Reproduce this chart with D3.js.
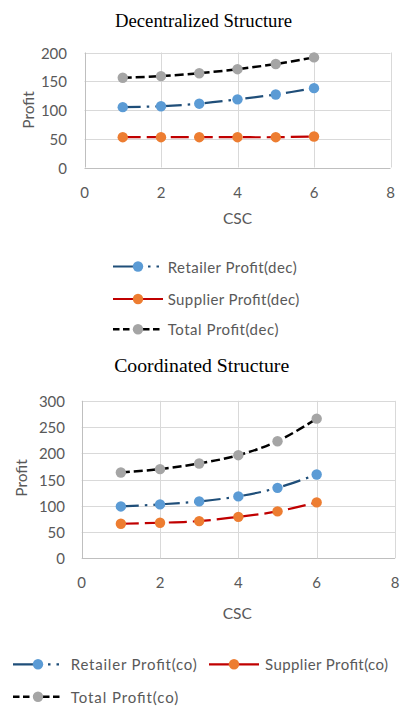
<!DOCTYPE html>
<html>
<head>
<meta charset="utf-8">
<script src="https://cdn.jsdelivr.net/npm/d3@7"></script>
<style>
  html, body { margin: 0; padding: 0; background: #fff; }
  svg { display: block; }
</style>
</head>
<body>
<svg id="chart" width="400" height="706"></svg>
<script>
// CSC levels on the horizontal axis
const csc = [1, 2, 3, 4, 5, 6];

// Decentralized structure profits
const decRetailer = [105, 106.5, 111, 118.5, 127, 138];
const decSupplier = [52.7, 52.7, 52.7, 52.7, 52.7, 54];
const decTotal = [156, 159, 164, 171, 180, 191.5];

// Coordinated structure profits
const coRetailer = [98.8, 102.7, 108.4, 117.9, 134.2, 159.7];
const coSupplier = [65.8, 67.7, 70.9, 79, 89.3, 106.5];
const coTotal = [163.5, 169.8, 180.6, 196.4, 223, 266];

// Tick labels
const xTicks = [0, 2, 4, 6, 8];
const decYTicks = [0, 50, 100, 150, 200];
const coYTicks = [0, 50, 100, 150, 200, 250, 300];

// Titles and legend names
const titles = ["Decentralized Structure", "Coordinated Structure"];
const decNames = ["Retailer Profit(dec)", "Supplier Profit(dec)", "Total Profit(dec)"];
const coNames = ["Retailer Profit(co)", "Supplier Profit(co)", "Total Profit(co)"];

const svg = d3.select("#chart");
const tickFont = "Lato, 'Open Sans', sans-serif";
const gray = "#595959";

// Series styles: line colour, dash pattern in plot and in legend key, marker colour
const styles = [
  { line: "#1F4E79", dash: "18,6,2.5,6,2.5,6", keyDash: "21,14,2.5,6,2.5,20", marker: "#5B9BD5", width: 2.2 },
  { line: "#C00000", dash: "18,6", keyDash: null, marker: "#ED7D31", width: 2.2 },
  { line: "#000000", dash: "9,4", keyDash: "6.5,3.5", marker: "#A5A5A5", width: 2.5 }
];

function panel(opt) {
  const x = d3.scaleLinear().domain([0, 8]).range(opt.xr);
  const y = d3.scaleLinear().domain([0, opt.yMax]).range(opt.yr);
  const g = svg.append("g");

  // title
  g.append("text")
    .attr("x", opt.titleX).attr("y", opt.titleY)
    .attr("text-anchor", "middle").attr("dominant-baseline", "central")
    .style("font-family", "'Liberation Serif', 'Times New Roman', serif")
    .style("font-size", "19px").attr("fill", "#000")
    .attr("textLength", opt.titleW).attr("lengthAdjust", "spacingAndGlyphs")
    .text(opt.title);

  // grid
  g.append("g").selectAll("line").data(opt.yTicks).join("line")
    .attr("x1", opt.xr[0]).attr("x2", opt.xr[1])
    .attr("y1", d => Math.round(y(d)) + 0.5).attr("y2", d => Math.round(y(d)) + 0.5)
    .attr("stroke", d => d === 0 ? "#BFBFBF" : "#D9D9D9").attr("stroke-width", 1);
  g.append("g").selectAll("line").data(xTicks).join("line")
    .attr("y1", opt.yr[0]).attr("y2", opt.yr[1])
    .attr("x1", d => Math.round(x(d)) + 0.5).attr("x2", d => Math.round(x(d)) + 0.5)
    .attr("stroke", d => d === 0 ? "#BFBFBF" : "#D9D9D9").attr("stroke-width", 1);

  // y tick labels
  g.append("g").selectAll("text").data(opt.yTicks).join("text")
    .attr("x", opt.yLabelX).attr("y", d => y(d))
    .attr("text-anchor", "end").attr("dominant-baseline", "central")
    .style("font-family", tickFont).style("font-size", "15px").attr("fill", gray)
    .text(d => d);

  // x tick labels
  g.append("g").selectAll("text").data(xTicks).join("text")
    .attr("x", d => x(d)).attr("y", opt.xLabelY)
    .attr("text-anchor", "middle").attr("dominant-baseline", "central")
    .style("font-family", tickFont).style("font-size", "15px").attr("fill", gray)
    .text(d => d);

  // axis titles
  g.append("text")
    .attr("x", opt.cscX).attr("y", opt.cscY)
    .attr("text-anchor", "middle").attr("dominant-baseline", "central")
    .style("font-family", tickFont).style("font-size", "15.5px").attr("fill", gray)
    .text("CSC");
  g.append("text")
    .attr("transform", `translate(${opt.profitX},${opt.profitY}) rotate(-90)`)
    .attr("text-anchor", "middle").attr("dominant-baseline", "central")
    .style("font-family", tickFont).style("font-size", "15.5px").attr("fill", gray)
    .text("Profit");

  // series
  const line = d3.line().x((d, i) => x(csc[i])).y(d => y(d)).curve(d3.curveCatmullRom.alpha(0.5));
  opt.series.forEach((vals, si) => {
    const st = styles[si];
    const sg = g.append("g");
    sg.append("path").attr("d", line(vals))
      .attr("fill", "none").attr("stroke", st.line)
      .attr("stroke-width", st.width).attr("stroke-dasharray", st.dash);
    sg.selectAll("circle").data(vals).join("circle")
      .attr("cx", (d, i) => x(csc[i])).attr("cy", d => y(d)).attr("r", 5.2)
      .attr("fill", st.marker);
  });

  // legend
  opt.legend.forEach((it, si) => {
    const st = styles[si];
    const lg = g.append("g");
    lg.append("line")
      .attr("x1", it.x0).attr("x2", it.x0 + 50).attr("y1", it.y).attr("y2", it.y)
      .attr("stroke", st.line).attr("stroke-width", st.width)
      .attr("stroke-dasharray", st.keyDash);
    lg.append("circle").attr("cx", it.x0 + 25).attr("cy", it.y).attr("r", 5.2).attr("fill", st.marker);
    lg.append("text")
      .attr("x", it.tx).attr("y", it.y)
      .attr("dominant-baseline", "central")
      .style("font-family", tickFont).style("font-size", "15px").attr("fill", gray)
      .attr("textLength", it.w).attr("lengthAdjust", "spacing")
      .text(opt.names[si]);
  });
}

panel({
  title: titles[0], titleX: 203.5, titleY: 20, titleW: 177,
  xr: [84.5, 390.5], yr: [167.5, 52.5], yMax: 200, yTicks: decYTicks,
  yLabelX: 67, xLabelY: 192, cscX: 237.5, cscY: 218, profitX: 28, profitY: 110,
  series: [decRetailer, decSupplier, decTotal], names: decNames,
  legend: [
    { x0: 113, y: 266.5, tx: 167.7, w: 129 },
    { x0: 113, y: 299, tx: 167.7, w: 131.6 },
    { x0: 113, y: 329.3, tx: 167.7, w: 110.7 }
  ]
});

panel({
  title: titles[1], titleX: 201.7, titleY: 365, titleW: 175,
  xr: [81.7, 395], yr: [558.3, 400.8], yMax: 300, yTicks: coYTicks,
  yLabelX: 65, xLabelY: 581.7, cscX: 237.3, cscY: 612.7, profitX: 21, profitY: 478,
  series: [coRetailer, coSupplier, coTotal], names: coNames,
  legend: [
    { x0: 13, y: 664.3, tx: 70.7, w: 126 },
    { x0: 209, y: 664.3, tx: 265, w: 123 },
    { x0: 13, y: 696.7, tx: 70.7, w: 107.6 }
  ]
});
</script>
</body>
</html>
